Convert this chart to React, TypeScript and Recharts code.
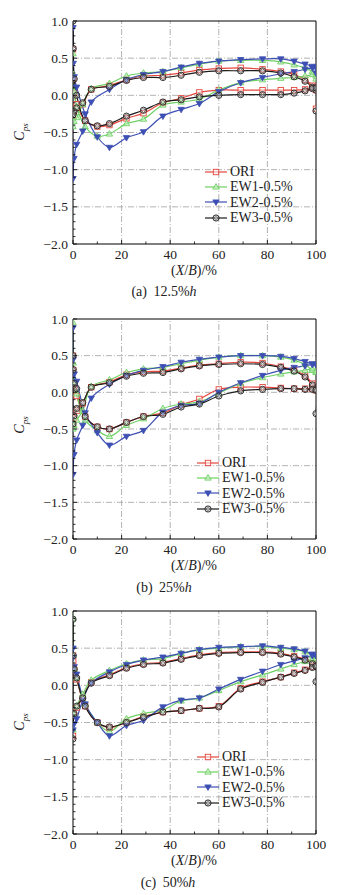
import React from 'react';
import { LineChart, Line, XAxis, YAxis, ReferenceLine } from 'recharts';

// ---------- data ----------
const SERIES_NAMES = ['ORI', 'EW1-0.5%', 'EW2-0.5%', 'EW3-0.5%'];
// stations along the "upper" branch (leading edge -> trailing edge)
const X_UPPER = [7.5, 15, 22, 29, 37, 44.5, 52, 60, 69, 78, 85.5, 91, 95.5, 98.5, 100];
// stations along the "lower" branch (leading edge -> trailing edge)
const X_LOWER = [10, 15, 22, 29, 37, 44.5, 52, 60, 69, 78, 85.5, 91, 95.5, 98.5, 100];
// leading-edge stations: approach of upper branch, suction, stagnation, start of lower branch
const X_LE = [4, 1.5, 0.4, 0, 0, 0.1, 0.5, 1.5, 5];

const X_TICKS = [0, 10, 20, 30, 40, 50, 60, 70, 80, 90, 100];
const X_LABELS = [0, 20, 40, 60, 80, 100];
const Y_TICKS = [-2.0, -1.9, -1.8, -1.7, -1.6, -1.5, -1.4, -1.3, -1.2, -1.1, -1.0, -0.9, -0.8, -0.7, -0.6, -0.5, -0.4, -0.3, -0.2, -0.1, 0.0, 0.1, 0.2, 0.3, 0.4, 0.5, 0.6, 0.7, 0.8, 0.9, 1.0];
const Y_LABELS = [-2.0, -1.5, -1.0, -0.5, 0.0, 0.5, 1.0];
const GRID_X = [20, 40, 60, 80];
const GRID_Y = [0.5, 0, -0.5, -1.0, -1.5];

// (a) 12.5%h
const A_ORI_U = [0.08, 0.13, 0.21, 0.26, 0.27, 0.30, 0.34, 0.36, 0.37, 0.35, 0.32, 0.28, 0.21, 0.13, 0.07];
const A_EW1_U = [0.09, 0.16, 0.26, 0.30, 0.32, 0.37, 0.42, 0.46, 0.47, 0.47, 0.45, 0.41, 0.37, 0.32, 0.26];
const A_EW2_U = [-0.09, 0.08, 0.21, 0.28, 0.32, 0.38, 0.43, 0.46, 0.48, 0.49, 0.49, 0.46, 0.42, 0.39, 0.37];
const A_EW3_U = [0.08, 0.12, 0.20, 0.24, 0.24, 0.27, 0.31, 0.33, 0.33, 0.33, 0.30, 0.25, 0.19, 0.11, 0.07];
const A_ORI_L = [-0.42, -0.40, -0.31, -0.24, -0.10, -0.04, 0.04, 0.07, 0.07, 0.07, 0.07, 0.07, 0.08, 0.10, 0.10];
const A_EW1_L = [-0.55, -0.52, -0.38, -0.32, -0.13, -0.09, -0.05, 0.07, 0.17, 0.21, 0.23, 0.24, 0.26, 0.28, 0.30];
const A_EW2_L = [-0.56, -0.70, -0.57, -0.49, -0.28, -0.19, -0.11, 0.05, 0.17, 0.24, 0.29, 0.32, 0.35, 0.37, 0.38];
const A_EW3_L = [-0.41, -0.38, -0.28, -0.20, -0.09, -0.06, -0.02, 0.00, 0.01, 0.01, 0.01, 0.03, 0.06, 0.09, 0.10];
const A_ORI_LE = [-0.12, -0.17, -0.22, -0.28, 0.62, 0.22, 0.03, -0.12, -0.34];
const A_EW1_LE = [-0.12, -0.30, -0.35, -0.42, 0.56, 0.28, 0.05, -0.15, -0.42];
const A_EW2_LE = [-0.48, -0.66, -0.85, -1.12, 0.91, 0.43, 0.25, 0.11, -0.25];
const A_EW3_LE = [-0.10, -0.17, -0.22, -0.26, 1.0, 0.63, 0.22, 0.0, -0.34];
const A_TE = [-0.18, 0.22, 0.3, -0.21];

// (b) 25%h
const B_ORI_U = [0.07, 0.14, 0.24, 0.28, 0.29, 0.33, 0.37, 0.39, 0.41, 0.40, 0.35, 0.30, 0.23, 0.12, 0.03];
const B_EW1_U = [0.08, 0.17, 0.27, 0.32, 0.34, 0.39, 0.44, 0.48, 0.50, 0.50, 0.48, 0.44, 0.38, 0.30, 0.27];
const B_EW2_U = [-0.08, 0.11, 0.23, 0.30, 0.35, 0.41, 0.45, 0.48, 0.50, 0.50, 0.49, 0.46, 0.42, 0.39, 0.38];
const B_EW3_U = [0.07, 0.13, 0.22, 0.26, 0.27, 0.32, 0.36, 0.38, 0.39, 0.38, 0.34, 0.29, 0.21, 0.10, 0.03];
const B_ORI_L = [-0.47, -0.50, -0.41, -0.33, -0.28, -0.17, -0.09, 0.04, 0.07, 0.07, 0.06, 0.05, 0.05, 0.05, 0.03];
const B_EW1_L = [-0.52, -0.60, -0.45, -0.36, -0.22, -0.16, -0.13, -0.01, 0.12, 0.20, 0.25, 0.28, 0.30, 0.32, 0.28];
const B_EW2_L = [-0.55, -0.72, -0.60, -0.52, -0.27, -0.18, -0.15, 0.00, 0.13, 0.23, 0.30, 0.34, 0.36, 0.38, 0.38];
const B_EW3_L = [-0.47, -0.50, -0.41, -0.33, -0.30, -0.20, -0.16, -0.05, 0.02, 0.04, 0.05, 0.05, 0.04, 0.04, 0.03];
const B_ORI_LE = [-0.15, -0.25, -0.35, -0.43, 0.50, 0.30, 0.10, -0.05, -0.33];
const B_EW1_LE = [-0.25, -0.38, -0.45, -0.50, 0.95, 0.40, 0.15, -0.02, -0.38];
const B_EW2_LE = [-0.45, -0.65, -0.85, -1.12, 0.88, 0.45, 0.25, 0.15, -0.28];
const B_EW3_LE = [-0.14, -0.22, -0.32, -0.43, 0.50, 0.31, 0.12, 0.05, -0.33];
const B_TE = [null, null, null, -0.29];

// (c) 50%h
const C_ORI_U = [0.04, 0.14, 0.24, 0.29, 0.31, 0.36, 0.41, 0.44, 0.45, 0.45, 0.43, 0.39, 0.35, 0.30, 0.25];
const C_EW1_U = [0.07, 0.20, 0.29, 0.34, 0.36, 0.43, 0.48, 0.50, 0.52, 0.52, 0.50, 0.48, 0.45, 0.40, 0.37];
const C_EW2_U = [0.03, 0.18, 0.28, 0.34, 0.38, 0.43, 0.48, 0.51, 0.52, 0.53, 0.51, 0.49, 0.46, 0.42, 0.40];
const C_EW3_U = [0.03, 0.13, 0.23, 0.28, 0.30, 0.35, 0.40, 0.43, 0.44, 0.44, 0.42, 0.38, 0.34, 0.29, 0.25];
const C_ORI_L = [-0.50, -0.57, -0.50, -0.42, -0.36, -0.34, -0.31, -0.28, -0.04, 0.05, 0.11, 0.17, 0.21, 0.25, 0.27];
const C_EW1_L = [-0.50, -0.62, -0.45, -0.38, -0.33, -0.21, -0.17, -0.07, 0.05, 0.14, 0.22, 0.28, 0.32, 0.35, 0.36];
const C_EW2_L = [-0.50, -0.68, -0.54, -0.47, -0.29, -0.20, -0.17, -0.05, 0.08, 0.19, 0.28, 0.33, 0.37, 0.40, 0.40];
const C_EW3_L = [-0.50, -0.56, -0.50, -0.43, -0.36, -0.34, -0.31, -0.29, -0.05, 0.04, 0.11, 0.16, 0.20, 0.24, 0.26];
const C_ORI_LE = [-0.17, -0.30, -0.40, -0.68, 0.40, 0.32, 0.20, 0.08, -0.28];
const C_EW1_LE = [-0.12, -0.28, -0.40, -0.60, 0.90, 0.40, 0.22, 0.10, -0.25];
const C_EW2_LE = [-0.20, -0.45, -0.52, -0.60, 0.50, 0.38, 0.25, 0.15, -0.25];
const C_EW3_LE = [-0.17, -0.28, -0.38, -0.72, 0.89, 0.40, 0.22, 0.10, -0.28];
const C_TE = [null, null, null, 0.05];

// ---------- styling ----------
const COLORS = ['#e5473e', '#6fd065', '#3d4fb3', '#1c1c1c'];
const SHAPES = ['square', 'triUp', 'triDown', 'diamond'];
const FONT = '"Liberation Serif", "Times New Roman", serif';

const W = 347;
const H = 295;
const PLOT_LEFT = 73;
const PLOT_BOTTOM = 244;

// centripetal Catmull-Rom curve factory (smooth line through the points)
class CatmullRom {
  _context: any;
  _alpha = 0.5;
  _line: any;
  _point: any;
  _x0: any; _x1: any; _x2: any; _y0: any; _y1: any; _y2: any;
  _l01_a: any; _l12_a: any; _l23_a: any; _l01_2a: any; _l12_2a: any; _l23_2a: any;
  constructor(context: any) { this._context = context; }
  areaStart() { this._line = 0; }
  areaEnd() { this._line = NaN; }
  lineStart() {
    this._x0 = this._x1 = this._x2 = this._y0 = this._y1 = this._y2 = NaN;
    this._l01_a = this._l12_a = this._l23_a = this._l01_2a = this._l12_2a = this._l23_2a = this._point = 0;
  }
  lineEnd() {
    switch (this._point) {
      case 2: this._context.lineTo(this._x2, this._y2); break;
      case 3: this.point(this._x2, this._y2); break;
    }
    if (this._line || (this._line !== 0 && this._point === 1)) this._context.closePath();
    this._line = 1 - this._line;
  }
  seg(x: number, y: number) {
    let x1 = this._x1, y1 = this._y1, x2 = this._x2, y2 = this._y2;
    const eps = 1e-12;
    if (this._l01_a > eps) {
      const a = 2 * this._l01_2a + 3 * this._l01_a * this._l12_a + this._l12_2a;
      const n = 3 * this._l01_a * (this._l01_a + this._l12_a);
      x1 = (x1 * a - this._x0 * this._l12_2a + this._x2 * this._l01_2a) / n;
      y1 = (y1 * a - this._y0 * this._l12_2a + this._y2 * this._l01_2a) / n;
    }
    if (this._l23_a > eps) {
      const b = 2 * this._l23_2a + 3 * this._l23_a * this._l12_a + this._l12_2a;
      const m = 3 * this._l23_a * (this._l23_a + this._l12_a);
      x2 = (x2 * b + this._x1 * this._l23_2a - x * this._l12_2a) / m;
      y2 = (y2 * b + this._y1 * this._l23_2a - y * this._l12_2a) / m;
    }
    this._context.bezierCurveTo(x1, y1, x2, y2, this._x2, this._y2);
  }
  point(x: number, y: number) {
    x = +x; y = +y;
    if (this._point) {
      const x23 = this._x2 - x, y23 = this._y2 - y;
      this._l23_a = Math.sqrt(this._l23_2a = Math.pow(x23 * x23 + y23 * y23, this._alpha));
    }
    switch (this._point) {
      case 0: this._point = 1; this._line ? this._context.lineTo(x, y) : this._context.moveTo(x, y); break;
      case 1: this._point = 2; break;
      case 2: this._point = 3; this.seg(x, y); break;
      default: this.seg(x, y); break;
    }
    this._l01_a = this._l12_a; this._l12_a = this._l23_a;
    this._l01_2a = this._l12_2a; this._l12_2a = this._l23_2a;
    this._x0 = this._x1; this._x1 = this._x2; this._x2 = x;
    this._y0 = this._y1; this._y1 = this._y2; this._y2 = y;
  }
}
const catmullRom = (context: any) => new CatmullRom(context);

function buildLoop(te: number | null, upper: number[], le: number[], lower: number[]) {
  const pts: { x: number; y: number }[] = [];
  if (te !== null) pts.push({ x: 100, y: te });
  for (let i = X_UPPER.length - 1; i >= 0; i--) pts.push({ x: X_UPPER[i], y: upper[i] });
  X_LE.forEach((x, i) => pts.push({ x, y: le[i] }));
  X_LOWER.forEach((x, i) => pts.push({ x, y: lower[i] }));
  return pts;
}

const PANELS = [
  {
    top: 0, plotTop: 21, caption: '(a) 12.5%', capX: 164, capY: 293, yTitleY: 132, legend: { left: 205, top: 164 },
    loops: [
      buildLoop(A_TE[0], A_ORI_U, A_ORI_LE, A_ORI_L),
      buildLoop(A_TE[1], A_EW1_U, A_EW1_LE, A_EW1_L),
      buildLoop(A_TE[2], A_EW2_U, A_EW2_LE, A_EW2_L),
      buildLoop(A_TE[3], A_EW3_U, A_EW3_LE, A_EW3_L),
    ],
  },
  {
    top: 295, plotTop: 24, caption: '(b) 25%', capX: 164, capY: 294, yTitleY: 130, legend: { left: 197, top: 160 },
    loops: [
      buildLoop(B_TE[0], B_ORI_U, B_ORI_LE, B_ORI_L),
      buildLoop(B_TE[1], B_EW1_U, B_EW1_LE, B_EW1_L),
      buildLoop(B_TE[2], B_EW2_U, B_EW2_LE, B_EW2_L),
      buildLoop(B_TE[3], B_EW3_U, B_EW3_LE, B_EW3_L),
    ],
  },
  {
    top: 590, plotTop: 21, caption: '(c) 50%', capX: 168, capY: 294, yTitleY: 132, legend: { left: 197, top: 159 },
    loops: [
      buildLoop(C_TE[0], C_ORI_U, C_ORI_LE, C_ORI_L),
      buildLoop(C_TE[1], C_EW1_U, C_EW1_LE, C_EW1_L),
      buildLoop(C_TE[2], C_EW2_U, C_EW2_LE, C_EW2_L),
      buildLoop(C_TE[3], C_EW3_U, C_EW3_LE, C_EW3_L),
    ],
  },
];

function Marker({ shape, cx, cy, color }: any) {
  if (cx == null || cy == null) return null;
  if (shape === 'square') {
    const s = 2.7;
    return <rect x={cx - s} y={cy - s} width={2 * s} height={2 * s} fill="#fff" fillOpacity={0.5} stroke={color} strokeWidth={0.9} />;
  }
  if (shape === 'triUp') {
    return <polygon points={`${cx},${cy - 3.4} ${cx + 3.2},${cy + 2.1} ${cx - 3.2},${cy + 2.1}`} fill="#bfeebb" fillOpacity={0.6} stroke={color} strokeWidth={0.9} />;
  }
  if (shape === 'triDown') {
    return <polygon points={`${cx - 3.2},${cy - 2.1} ${cx + 3.2},${cy - 2.1} ${cx},${cy + 3.4}`} fill={color} stroke={color} strokeWidth={0.8} />;
  }
  return (
    <g>
      <circle cx={cx} cy={cy} r={3.1} fill="#fff" fillOpacity={0.4} stroke={color} strokeWidth={0.9} />
      <polygon points={`${cx},${cy - 2.3} ${cx + 2.3},${cy} ${cx},${cy + 2.3} ${cx - 2.3},${cy}`} fill="none" stroke={color} strokeWidth={0.6} />
    </g>
  );
}

function XTick(props: any) {
  const { x, payload } = props;
  const v = payload.value;
  const major = X_LABELS.includes(v);
  return (
    <g>
      <line x1={x} y1={PLOT_BOTTOM} x2={x} y2={PLOT_BOTTOM - (major ? 4 : 2.5)} stroke="#000" strokeWidth={0.8} />
      {major && (
        <text x={x} y={PLOT_BOTTOM + 15} textAnchor="middle" fontSize={13.5} fontFamily={FONT} fill="#222">{v}</text>
      )}
    </g>
  );
}

function YTick(props: any) {
  const { y, payload } = props;
  const v = Math.round(payload.value * 10) / 10;
  const major = Y_LABELS.some((l) => Math.abs(l - v) < 1e-6);
  const label = (v < 0 ? '\u2212' : '') + Math.abs(v).toFixed(1);
  return (
    <g>
      <line x1={PLOT_LEFT} y1={y} x2={PLOT_LEFT + (major ? 4 : 2.5)} y2={y} stroke="#000" strokeWidth={0.8} />
      {major && (
        <text x={PLOT_LEFT - 5} y={y + 4.5} textAnchor="end" fontSize={13.5} fontFamily={FONT} fill="#222">{label}</text>
      )}
    </g>
  );
}

function LegendBox({ left, top }: any) {
  return (
    <div style={{ position: 'absolute', left, top, fontFamily: FONT, fontSize: 14, color: '#222' }}>
      {SERIES_NAMES.map((n, i) => (
        <div key={n} style={{ display: 'flex', alignItems: 'center', height: 15.3 }}>
          <svg width={25} height={12} style={{ display: 'block', flex: 'none' }}>
            <line x1={0} y1={6} x2={22} y2={6} stroke={COLORS[i]} strokeWidth={1.2} />
            <Marker shape={SHAPES[i]} cx={11} cy={6} color={COLORS[i]} />
          </svg>
          <span style={{ whiteSpace: 'nowrap', lineHeight: '15px' }}>{n}</span>
        </div>
      ))}
    </div>
  );
}

function Panel({ p }: any) {
  return (
    <div style={{ position: 'absolute', left: 0, top: p.top, width: W, height: H }}>
      <LineChart width={W} height={H} margin={{ top: p.plotTop, right: W - 316, left: PLOT_LEFT - 40, bottom: H - PLOT_BOTTOM - 30 }}>
        <XAxis type="number" dataKey="x" domain={[0, 100]} ticks={X_TICKS} interval={0} height={30}
          axisLine={{ stroke: '#000', strokeWidth: 1 }} tickLine={false} tick={<XTick />} allowDataOverflow />
        <YAxis type="number" domain={[-2, 1]} ticks={Y_TICKS} interval={0} width={40}
          axisLine={{ stroke: '#000', strokeWidth: 1 }} tickLine={false} tick={<YTick />} allowDataOverflow />
        {GRID_X.map((g) => (
          <ReferenceLine key={'gx' + g} x={g} stroke="#a0a0a0" strokeWidth={0.8} strokeDasharray="6 2 1 2" />
        ))}
        {GRID_Y.map((g) => (
          <ReferenceLine key={'gy' + g} y={g} stroke="#a0a0a0" strokeWidth={0.8} strokeDasharray="6 2 1 2" />
        ))}
        <ReferenceLine y={1} stroke="#000" strokeWidth={1} />
        <ReferenceLine x={100} stroke="#000" strokeWidth={1} />
        {p.loops.map((loop: any, i: number) => (
          <Line key={SERIES_NAMES[i]} name={SERIES_NAMES[i]} data={loop} dataKey="y" type={catmullRom as any}
            stroke={COLORS[i]} strokeWidth={1.2} isAnimationActive={false}
            dot={(d: any) => <Marker key={`m${i}-${d.index}`} shape={SHAPES[i]} cx={d.cx} cy={d.cy} color={COLORS[i]} />}
            activeDot={false} />
        ))}
      </LineChart>
      <LegendBox left={p.legend.left} top={p.legend.top} />
      <div style={{ position: 'absolute', left: 194 - 40, width: 80, top: 263, textAlign: 'center', fontFamily: FONT, fontSize: 14, color: '#222' }}>
        (<i>X</i>/<i>B</i>)/%
      </div>
      <div style={{ position: 'absolute', left: 20 - 20, top: p.yTitleY - 10, width: 40, height: 20, textAlign: 'center', fontFamily: FONT, fontSize: 14, color: '#222', transform: 'rotate(-90deg)', lineHeight: '20px' }}>
        <i>C</i><sub style={{ fontSize: 9, fontStyle: 'italic' }}>ps</sub>
      </div>
      <div style={{ position: 'absolute', left: p.capX - 60, width: 120, top: p.capY - 9, textAlign: 'center', fontFamily: FONT, fontSize: 14, color: '#222', wordSpacing: 3 }}>
        {p.caption}<i>h</i>
      </div>
    </div>
  );
}

export default function App() {
  return (
    <div style={{ position: 'absolute', left: 0, top: 0, width: W, height: 895, background: '#fff', overflow: 'hidden' }}>
      {PANELS.map((p, i) => <Panel key={i} p={p} />)}
    </div>
  );
}
